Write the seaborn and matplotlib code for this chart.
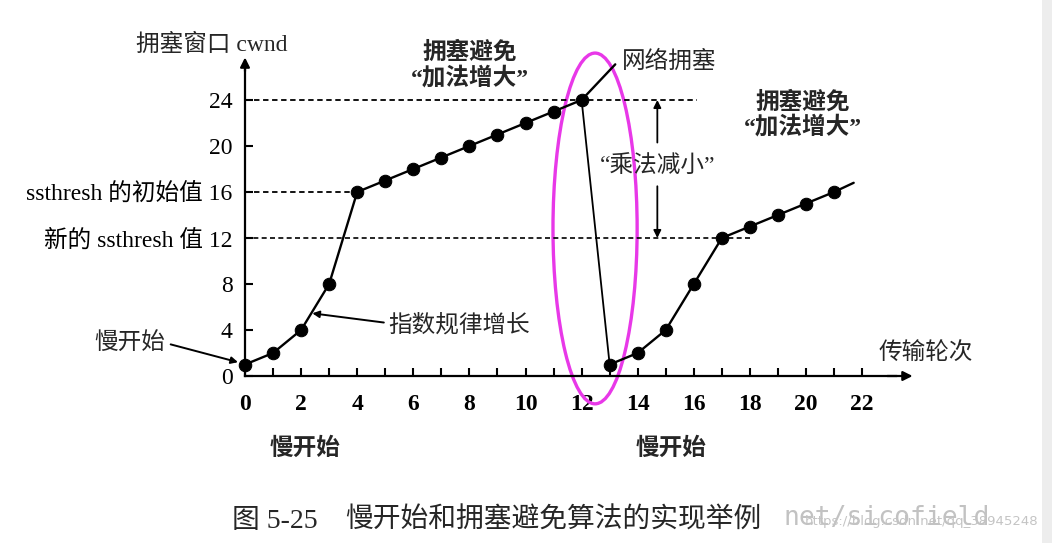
import matplotlib
matplotlib.use('Agg')
import matplotlib.pyplot as plt
import seaborn as sns
from matplotlib.patches import Ellipse, Rectangle

# ---------------- data ----------------
rounds_ss1 = list(range(0, 13))
cwnd_ss1 = [1, 2, 4, 8, 16, 17, 18, 19, 20, 21, 22, 23, 24]
rounds_ss2 = list(range(13, 22))
cwnd_ss2 = [1, 2, 4, 8, 12, 13, 14, 15, 16]
drop_rounds = [12, 13]
drop_cwnd = [24, 1]
congest_rounds = [12, 13.2]
congest_cwnd = [24, 27.1]
tail_rounds = [21, 21.7]
tail_cwnd = [16, 16.8]

ssthresh_init = 16
ssthresh_new = 12
cwnd_peak = 24

xtick_values = list(range(0, 23, 2))
xtick_labels = [str(v) for v in xtick_values]
xminor_values = list(range(1, 23, 2))
ytick_values = [0, 4, 8, 12, 16, 20, 24]
ytick_labels = ['0', '4', '8', '新的 ssthresh 值 12', 'ssthresh 的初始值 16', '20', '24']

# ---------------- style ----------------
sns.set_theme(style='ticks')
FAM = ['Liberation Serif', 'Noto Sans CJK SC', 'DejaVu Sans']
plt.rcParams['font.family'] = FAM
plt.rcParams['axes.unicode_minus'] = False

W, H = 1052, 543
fig = plt.figure(figsize=(W / 100, H / 100), dpi=100)
fig.patch.set_facecolor('white')
ax = fig.add_axes([0, 0, 1, 1])
ax.patch.set_alpha(0)

# pixel mapping of the original figure
PX, X0, PY, Y0 = 28.05, 245, 11.5, 376
ax.set_xlim(-X0 / PX, (W - X0) / PX)
ax.set_ylim(-(H - Y0) / PY, Y0 / PY)

for s in ['top', 'right']:
    ax.spines[s].set_visible(False)
ax.spines['left'].set_position(('data', 0))
ax.spines['bottom'].set_position(('data', 0))
ax.spines['left'].set_bounds(0, 27.0)
ax.spines['bottom'].set_bounds(0, 23.2)
for s in ['left', 'bottom']:
    ax.spines[s].set_linewidth(1.6)
    ax.spines[s].set_color('black')

ax.annotate('', xy=(0, 27.7), xytext=(0, 26.5),
            arrowprops=dict(arrowstyle='-|>', lw=1.6, color='black',
                            shrinkA=0, shrinkB=0, mutation_scale=14))
ax.annotate('', xy=(23.8, 0), xytext=(22.9, 0),
            arrowprops=dict(arrowstyle='-|>', lw=1.6, color='black',
                            shrinkA=0, shrinkB=0, mutation_scale=14))

ax.set_xticks(xtick_values)
ax.set_xticklabels(xtick_labels, fontsize=17, fontweight='bold', fontfamily=FAM)
ax.set_xticks(xminor_values, minor=True)
ax.set_yticks(ytick_values)
ax.set_yticklabels(ytick_labels, fontsize=17, fontfamily=FAM)
ax.tick_params(axis='both', which='both', direction='in', length=6, width=1.5,
               colors='black', bottom=True, left=True)
ax.tick_params(axis='x', which='major', pad=13)
ax.tick_params(axis='y', which='major', pad=9)
ax.grid(False)

# dashed reference lines
dash = (0, (3, 2))
ax.hlines(cwnd_peak, 0, 16.1, colors='black', linestyles=dash, lw=1.3)
ax.hlines(ssthresh_init, 0, 4, colors='black', linestyles=dash, lw=1.3)
ax.hlines(ssthresh_new, 0, 18.1, colors='black', linestyles=dash, lw=1.2)

# data lines
sns.lineplot(x=rounds_ss1, y=cwnd_ss1, ax=ax, color='black', lw=1.7,
             marker='o', markersize=9, markeredgecolor='black', legend=False)
sns.lineplot(x=rounds_ss2, y=cwnd_ss2, ax=ax, color='black', lw=1.7,
             marker='o', markersize=9, markeredgecolor='black', legend=False)
sns.lineplot(x=drop_rounds, y=drop_cwnd, ax=ax, color='black', lw=1.3, legend=False)
sns.lineplot(x=congest_rounds, y=congest_cwnd, ax=ax, color='black', lw=1.7, legend=False)
sns.lineplot(x=tail_rounds, y=tail_cwnd, ax=ax, color='black', lw=1.7, legend=False)
ax.set_xlabel('')
ax.set_ylabel('')
ax.set_xlim(-X0 / PX, (W - X0) / PX)
ax.set_ylim(-(H - Y0) / PY, Y0 / PY)

# texts
ax.text(-3.9, 28.8, '拥塞窗口 cwnd', fontsize=17, va='center', ha='left')
ax.text(13.45, 27.3, '网络拥塞', fontsize=17, va='center', ha='left')
ax.text(8.0, 27.0, '拥塞避免\n“加法增大”', fontsize=17, fontweight='bold',
        va='center', ha='center', multialignment='center', linespacing=1.15)
ax.text(19.9, 22.7, '拥塞避免\n“加法增大”', fontsize=17, fontweight='bold',
        va='center', ha='center', multialignment='center', linespacing=1.15)
ax.text(14.7, 18.3, '“乘法减小”', fontsize=17, va='center', ha='center')
ax.annotate('', xy=(14.7, cwnd_peak), xytext=(14.7, 20.3),
            arrowprops=dict(arrowstyle='-|>', lw=1.3, color='black',
                            shrinkA=0, shrinkB=0, mutation_scale=11))
ax.annotate('', xy=(14.7, ssthresh_new), xytext=(14.7, 16.5),
            arrowprops=dict(arrowstyle='-|>', lw=1.3, color='black',
                            shrinkA=0, shrinkB=0, mutation_scale=11))

ax.text(5.1, 4.4, '指数规律增长', fontsize=17, va='center', ha='left')
ax.annotate('', xy=(2.4, 5.45), xytext=(4.95, 4.65),
            arrowprops=dict(arrowstyle='-|>', lw=1.4, color='black',
                            shrinkA=0, shrinkB=0, mutation_scale=10))
ax.text(-2.85, 2.9, '慢开始', fontsize=17, va='center', ha='right')
ax.annotate('', xy=(-0.25, 1.2), xytext=(-2.65, 2.75),
            arrowprops=dict(arrowstyle='-|>', lw=1.4, color='black',
                            shrinkA=0, shrinkB=0, mutation_scale=10))

ax.text(2.14, -6.3, '慢开始', fontsize=17, fontweight='bold', va='center', ha='center')
ax.text(15.2, -6.3, '慢开始', fontsize=17, fontweight='bold', va='center', ha='center')
ax.text(22.6, 2.0, '传输轮次', fontsize=17, va='center', ha='left')

ell = Ellipse((12.48, 12.83), 3.0, 30.5, fill=False, ec='#e838e8', lw=2.4, clip_on=False)
ax.add_patch(ell)

# caption and watermark
fig.text(232 / W, 1 - 521 / H, '图 5-25', fontsize=20, va='center', ha='left')
fig.text(345 / W, 1 - 521 / H, '慢开始和拥塞避免算法的实现举例', fontsize=20,
         va='center', ha='left')
fig.text(783 / W, 1 - 518 / H, 'net/sicofield', fontsize=19, color='#c2c2c2',
         family='DejaVu Sans Mono', va='center', ha='left')
fig.text(805 / W, 1 - 522 / H, 'https://blog.csdn.net/qq_38945248', fontsize=9.5,
         color='#c4c4c4', family='DejaVu Sans', va='center', ha='left')
fig.patches.append(Rectangle((1042 / W, 0), 10 / W, 1, transform=fig.transFigure,
                             facecolor='#ededed', edgecolor='none', zorder=0))

fig.savefig('out.png', dpi=100)
